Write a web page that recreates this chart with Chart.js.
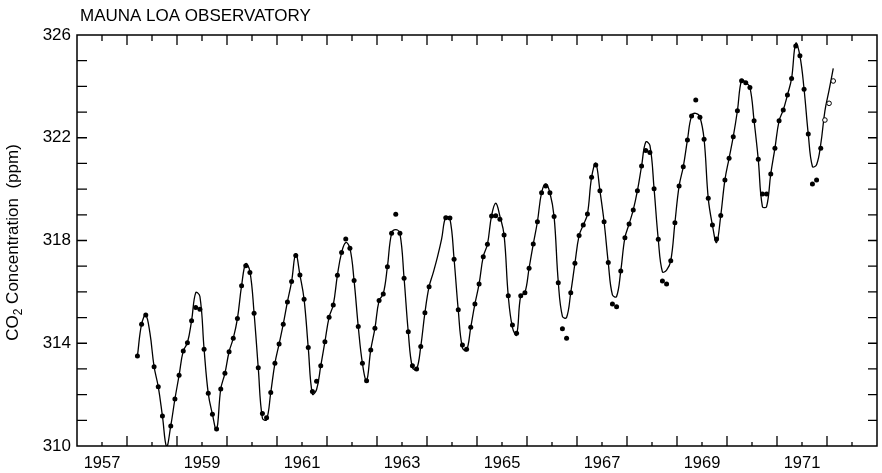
<!DOCTYPE html>
<html><head><meta charset="utf-8">
<script src="https://cdn.jsdelivr.net/npm/chart.js@4.4.1/dist/chart.umd.min.js"></script>
<style>html,body{margin:0;padding:0;background:#fff}#wrap{width:882px;height:473px}</style>
</head><body><div id="wrap"><canvas id="c" width="882" height="473"></canvas></div>
<script>
// ---- data (monthly, starting March 1958) ----
const startYear = 1958;
const startMonth = 3;
const observed = [
  313.50,314.74,315.10,null,313.09,312.31,311.17,null,310.78,311.83,
  312.75,313.70,314.02,314.88,315.39,315.32,313.77,312.05,311.24,310.66,312.22,312.83,
  313.67,314.19,314.96,316.24,317.02,316.75,315.17,313.05,311.27,311.10,312.08,313.22,
  313.97,314.74,315.61,316.40,317.42,316.66,315.71,313.83,312.12,312.52,313.12,314.06,
  315.01,315.49,316.65,317.53,318.06,317.70,316.44,314.65,313.22,312.54,313.74,314.58,
  315.66,315.92,316.98,318.28,319.02,318.28,316.53,314.45,313.12,313.00,313.87,315.19,
  316.20,null,null,null,318.89,318.88,317.27,315.30,313.93,313.77,314.62,315.53,
  316.31,317.37,317.85,318.95,318.96,318.83,318.21,315.85,314.71,314.39,315.85,315.97,
  316.92,317.86,318.73,319.86,320.12,319.86,318.93,316.36,314.56,314.19,315.97,317.11,
  318.19,318.60,319.03,320.46,320.94,319.94,318.73,317.14,315.53,315.42,316.81,318.11,
  318.64,319.19,319.94,320.90,321.50,321.43,320.01,318.05,316.42,316.31,317.21,318.69,
  320.12,320.87,321.91,322.85,323.47,322.80,321.94,319.64,318.60,318.06,318.97,320.36,
  321.20,322.04,323.05,324.22,324.14,323.96,322.66,321.16,319.81,319.81,320.59,321.59,
  322.66,323.08,323.66,324.31,325.57,325.19,323.89,322.15,320.20,320.36,321.59,322.69,
  323.34,324.21
];
const fitted = [
  313.50,314.74,315.10,314.40,313.09,312.31,311.17,309.98,310.78,311.83,
  312.75,313.70,314.02,314.88,315.97,315.82,313.77,312.05,311.24,310.62,312.22,312.83,
  313.67,314.19,314.96,316.24,317.10,316.80,315.17,313.05,311.08,311.02,312.08,313.22,
  313.97,314.74,315.61,316.40,317.48,316.66,315.71,313.83,312.02,312.20,313.12,314.06,
  315.01,315.49,316.65,317.53,317.92,317.70,316.44,314.65,313.22,312.54,313.74,314.58,
  315.66,315.92,316.98,318.28,318.42,318.28,316.53,314.45,313.05,312.98,313.87,315.19,
  316.20,316.75,317.35,318.05,318.92,318.85,317.27,315.30,313.82,313.72,314.62,315.53,
  316.31,317.37,317.85,318.97,319.45,318.95,318.21,315.85,314.62,314.32,315.85,315.97,
  316.92,317.86,318.73,319.86,320.20,319.86,318.93,316.40,315.05,315.00,315.97,317.11,
  318.19,318.60,319.03,320.46,321.00,319.94,318.73,317.14,315.88,315.82,316.81,318.11,
  318.64,319.19,319.94,320.90,321.83,321.70,320.01,318.05,316.78,316.85,317.21,318.69,
  320.12,320.87,321.91,322.85,322.95,322.80,321.94,319.64,318.60,317.92,318.97,320.36,
  321.20,322.04,323.05,324.25,324.15,323.96,322.66,321.16,319.32,319.32,320.59,321.59,
  322.66,323.08,323.66,324.31,325.68,325.19,323.89,322.15,320.88,320.95,321.75,323.05,
  323.85,324.70
];
const provisionalFrom = 165;       // open circles from this month index on
const yTickValues = [310, 314, 318, 322, 326];
const xLabelYears = [1957, 1959, 1961, 1963, 1965, 1967, 1969, 1971];
const xRange = [1957, 1973];
const yRange = [310, 326];
const titleText = "MAUNA LOA OBSERVATORY";
const yTitleParts = ["CO", "2", " Concentration  (ppm)"];

function monthTime(i) { return startYear + (startMonth - 1 + i + 0.5) / 12; }

const FONT = "'Liberation Sans', Arial, Helvetica, sans-serif";

const curvePts = fitted.map((v, i) => ({ x: monthTime(i), y: v }));
const filledPts = [], openPts = [];
observed.forEach((v, i) => {
  if (v === null) return;
  (i >= provisionalFrom ? openPts : filledPts).push({ x: monthTime(i), y: v });
});

const framePlugin = {
  id: 'frame',
  afterDraw(chart) {
    const { ctx, chartArea: a, scales } = chart;
    const xs = scales.x, ys = scales.y;
    ctx.save();
    ctx.strokeStyle = '#000';
    ctx.lineWidth = 1.5;
    ctx.strokeRect(a.left, a.top, a.right - a.left, a.bottom - a.top);
    ctx.lineWidth = 1.3;
    ctx.beginPath();
    for (let k = xRange[0] * 2 + 1; k < xRange[1] * 2; k++) {
      const v = k / 2;
      const px = xs.getPixelForValue(v);
      const tall = Number.isInteger(v);
      const lb = tall ? 10 : 4, lt = tall ? 10 : 6;
      ctx.moveTo(px, a.bottom); ctx.lineTo(px, a.bottom - lb);
      ctx.moveTo(px, a.top); ctx.lineTo(px, a.top + lt);
    }
    for (let v = yRange[0] + 1; v < yRange[1]; v++) {
      const py = ys.getPixelForValue(v);
      ctx.moveTo(a.left, py); ctx.lineTo(a.left + 10, py);
      ctx.moveTo(a.right, py); ctx.lineTo(a.right - 9, py);
    }
    ctx.stroke();

    // title
    ctx.fillStyle = '#000';
    ctx.font = '17px ' + FONT;
    ctx.textAlign = 'left';
    ctx.textBaseline = 'alphabetic';
    ctx.fillText(titleText, 80, 21);

    // y title with subscript
    const big = '17px ' + FONT, small = '12px ' + FONT;
    ctx.font = big; const w0 = ctx.measureText(yTitleParts[0]).width;
    ctx.font = small; const w1 = ctx.measureText(yTitleParts[1]).width;
    ctx.font = big; const w2 = ctx.measureText(yTitleParts[2]).width;
    const total = w0 + w1 + w2;
    ctx.translate(18, (a.top + a.bottom) / 2 + 2);
    ctx.rotate(-Math.PI / 2);
    let x0 = -total / 2;
    ctx.font = big; ctx.fillText(yTitleParts[0], x0, 0); x0 += w0;
    ctx.font = small; ctx.fillText(yTitleParts[1], x0, 4); x0 += w1;
    ctx.font = big; ctx.fillText(yTitleParts[2], x0, 0);
    ctx.restore();
  }
};

new Chart(document.getElementById('c'), {
  type: 'line',
  data: {
    datasets: [
      { data: curvePts, borderColor: '#000', borderWidth: 1.3, pointRadius: 0, tension: 0.4, fill: false, order: 2 },
      { data: filledPts, showLine: false, pointRadius: 2.5, pointBackgroundColor: '#000', pointBorderWidth: 0, order: 1 },
      { data: openPts, showLine: false, pointRadius: 2.3, pointBackgroundColor: '#fff', pointBorderColor: '#000', pointBorderWidth: 1, order: 0 }
    ]
  },
  options: {
    responsive: false,
    animation: false,
    devicePixelRatio: 1,
    layout: { padding: { top: 35, right: 2, left: 0, bottom: 0 } },
    plugins: { legend: { display: false }, tooltip: { enabled: false }, title: { display: false } },
    scales: {
      x: {
        type: 'linear', min: xRange[0], max: xRange[1],
        afterBuildTicks(s) { s.ticks = xLabelYears.map(y => ({ value: y + 0.5 })); },
        afterFit(s) { s.height = 27; },
        ticks: { callback: v => String(Math.round(v - 0.5)), font: { family: FONT, size: 16.5 }, color: '#000', maxRotation: 0, autoSkip: false, padding: 8 },
        grid: { display: false, drawTicks: false },
        border: { display: false }
      },
      y: {
        type: 'linear', min: yRange[0], max: yRange[1],
        afterBuildTicks(s) { s.ticks = yTickValues.map(v => ({ value: v })); },
        afterFit(s) { s.width = 77; },
        ticks: { font: { family: FONT, size: 17 }, color: '#000', padding: 6 },
        grid: { display: false, drawTicks: false },
        border: { display: false }
      }
    }
  },
  plugins: [framePlugin]
});
</script>
</body></html>
